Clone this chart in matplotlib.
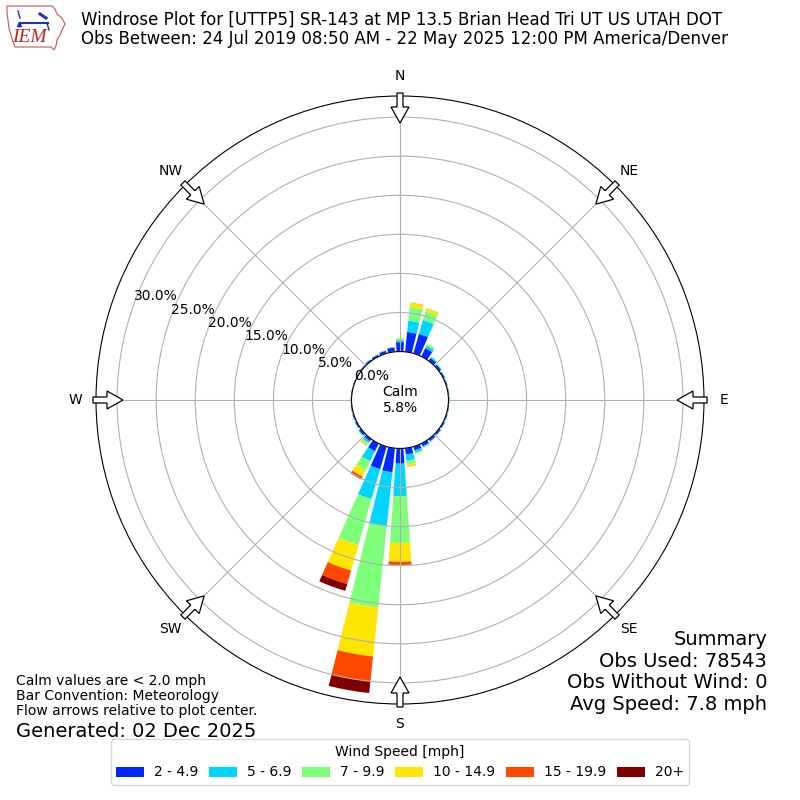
import numpy as np
import matplotlib
matplotlib.use("Agg")
import matplotlib.pyplot as plt
from matplotlib.patches import FancyArrow, Polygon, Patch

# ---------------- data ----------------
directions = list(range(0, 360, 10))
speed_labels = ["2 - 4.9", "5 - 6.9", "7 - 9.9", "10 - 14.9", "15 - 19.9", "20+"]

# percent of observations per direction bin (0, 10, ..., 350 deg)
spd_2_5 = [1.20, 2.55, 2.60, 1.20, 0.45, 0.30, 0.20, 0.15, 0.12, 0.12, 0.12, 0.15,
           0.20, 0.25, 0.30, 0.40, 0.50, 0.80, 1.95, 3.10, 3.00, 1.10, 0.35, 0.30,
           0.20, 0.15, 0.12, 0.10, 0.10, 0.10, 0.12, 0.15, 0.20, 0.25, 0.35, 0.55]
spd_5_7 = [0.25, 1.45, 1.85, 0.35, 0.15, 0.10, 0.06, 0.04, 0.03, 0.03, 0.03, 0.04,
           0.05, 0.07, 0.10, 0.15, 0.30, 0.80, 4.15, 6.90, 4.00, 1.40, 0.30, 0.10,
           0.06, 0.04, 0.03, 0.02, 0.02, 0.02, 0.02, 0.03, 0.04, 0.05, 0.06, 0.08]
spd_7_10 = [0.20, 1.75, 1.15, 0.20, 0.08, 0.05, 0.02, 0.01, 0.01, 0.01, 0.01, 0.01,
            0.02, 0.03, 0.04, 0.05, 0.15, 0.50, 6.00, 10.50, 6.10, 1.30, 0.20, 0.07,
            0.03, 0.02, 0.01, 0.01, 0.00, 0.00, 0.00, 0.00, 0.00, 0.00, 0.01, 0.02]
spd_10_15 = [0.10, 0.55, 0.40, 0.06, 0.02, 0.01, 0.00, 0.00, 0.00, 0.00, 0.00, 0.00,
             0.00, 0.01, 0.01, 0.02, 0.05, 0.25, 2.40, 6.30, 3.40, 0.90, 0.15, 0.03,
             0.01, 0.00, 0.00, 0.00, 0.00, 0.00, 0.00, 0.00, 0.00, 0.00, 0.00, 0.00]
spd_15_20 = [0.00, 0.03, 0.02, 0.00, 0.00, 0.00, 0.00, 0.00, 0.00, 0.00, 0.00, 0.00,
             0.00, 0.00, 0.00, 0.00, 0.00, 0.03, 0.35, 3.20, 1.80, 0.30, 0.05, 0.00,
             0.00, 0.00, 0.00, 0.00, 0.00, 0.00, 0.00, 0.00, 0.00, 0.00, 0.00, 0.00]
spd_20p = [0.00, 0.00, 0.00, 0.00, 0.00, 0.00, 0.00, 0.00, 0.00, 0.00, 0.00, 0.00,
           0.00, 0.00, 0.00, 0.00, 0.00, 0.00, 0.05, 1.50, 0.90, 0.10, 0.01, 0.00,
           0.00, 0.00, 0.00, 0.00, 0.00, 0.00, 0.00, 0.00, 0.00, 0.00, 0.00, 0.00]
series = [spd_2_5, spd_5_7, spd_7_10, spd_10_15, spd_15_20, spd_20p]

calm_pct = 5.8
ring_values = [0, 5, 10, 15, 20, 25, 30]
compass_angles = [0, 45, 90, 135, 180, 225, 270, 315]
compass_labels = ["N", "NE", "E", "SE", "S", "SW", "W", "NW"]

title = ("Windrose Plot for [UTTP5] SR-143 at MP 13.5 Brian Head Tri UT US UTAH DOT\n"
         "Obs Between: 24 Jul 2019 08:50 AM - 22 May 2025 12:00 PM America/Denver")
notes = ("Calm values are < 2.0 mph\nBar Convention: Meteorology\n"
         "Flow arrows relative to plot center.")
generated = "Generated: 02 Dec 2025"
summary = "Summary\nObs Used: 78543\nObs Without Wind: 0\nAvg Speed: 7.8 mph"

# ---------------- figure ----------------
fig = plt.figure(figsize=(8, 8), dpi=100)
ax = fig.add_axes([0.12, 0.12, 0.76, 0.76], projection="polar")
ax.set_theta_zero_location("N")
ax.set_theta_direction(-1)

colors = plt.cm.jet(np.arange(1, 7) / 6.0)
theta = np.deg2rad(directions)
bottom = np.zeros(len(directions))
for vals, col, lab in zip(series, colors, speed_labels):
    vals = np.asarray(vals)
    ax.bar(theta, vals, width=np.deg2rad(8), bottom=bottom, color=col,
           label=lab, linewidth=0, align="center")
    bottom = bottom + vals

ax.set_ylim(0, 32.7)
ax.set_rorigin(-6.2)
ax.set_yticks(ring_values)
ax.set_yticklabels([f"{v:.1f}%" for v in ring_values], fontsize=10)
ax.set_rlabel_position(290)
ax.set_xticks(np.deg2rad(compass_angles))
ax.set_xticklabels(compass_labels, fontsize=10)
ax.tick_params(axis="x", pad=4)
ax.grid(True, color="#b0b0b0", linewidth=0.8)

ax.text(0.5, 0.5, f"Calm\n{calm_pct:.1f}%", transform=ax.transAxes,
        ha="center", va="center", fontsize=10)

# flow arrows (pointing to center)
for ang in compass_angles:
    a = np.deg2rad(ang)
    ux, uy = np.sin(a), np.cos(a)
    r0, r1 = 307 / 800.0, 277 / 800.0
    arr = FancyArrow(0.5 + r0 * ux, 0.5 + r0 * uy, (r1 - r0) * ux, (r1 - r0) * uy,
                     width=6 / 800.0, head_width=18 / 800.0, head_length=16 / 800.0,
                     length_includes_head=True, facecolor="white", edgecolor="black",
                     linewidth=0.9, transform=fig.transFigure, zorder=10)
    fig.add_artist(arr)

# texts
fig.text(0.101, 0.986, title, ha="left", va="top", fontsize=12, linespacing=1.05)
fig.text(0.02, 0.158, notes, ha="left", va="top", fontsize=10, linespacing=1.1)
fig.text(0.02, 0.079, generated, ha="left", va="baseline", fontsize=14)
fig.text(0.959, 0.212, summary, ha="right", va="top", fontsize=14, linespacing=1.16)

handles = [Patch(facecolor=c, label=l) for c, l in zip(colors, speed_labels)]
fig.legend(handles=handles, loc="lower center", bbox_to_anchor=(0.5, 0.01), ncol=6,
           title="Wind Speed [mph]", fontsize=10, title_fontsize=10,
           columnspacing=0.8, handletextpad=0.7)

# IEM logo (simplified)
lax = fig.add_axes([0.0, 1 - 60 / 800.0, 80 / 800.0, 60 / 800.0])
lax.set_xlim(0, 80)
lax.set_ylim(60, 0)
lax.axis("off")
outline = [(7, 6), (52, 6), (55, 9), (57, 14), (62, 18), (65, 24), (62, 30), (60, 35),
           (57, 40), (56, 46), (54, 50), (51, 47), (15, 47), (13, 42), (11, 35),
           (9, 28), (8, 20), (7, 13)]
lax.add_patch(Polygon(outline, closed=True, fill=False, edgecolor="#d05050", linewidth=0.8))
lax.plot([20, 48], [23, 23], color="#2030c0", linewidth=1.5)
lax.plot([18, 20], [11, 18], color="#2030c0", linewidth=1)
lax.plot([40, 46], [14, 18], color="#2030c0", linewidth=2.2)
lax.plot([47, 49], [23, 30], color="#2030c0", linewidth=1)
lax.plot([19], [24], marker="^", color="#2030c0", markersize=3)
lax.text(29, 38, "IEM", ha="center", va="center", fontsize=14, color="#cc2020",
         family="Liberation Serif", style="italic")

fig.savefig("out.png", dpi=100)
